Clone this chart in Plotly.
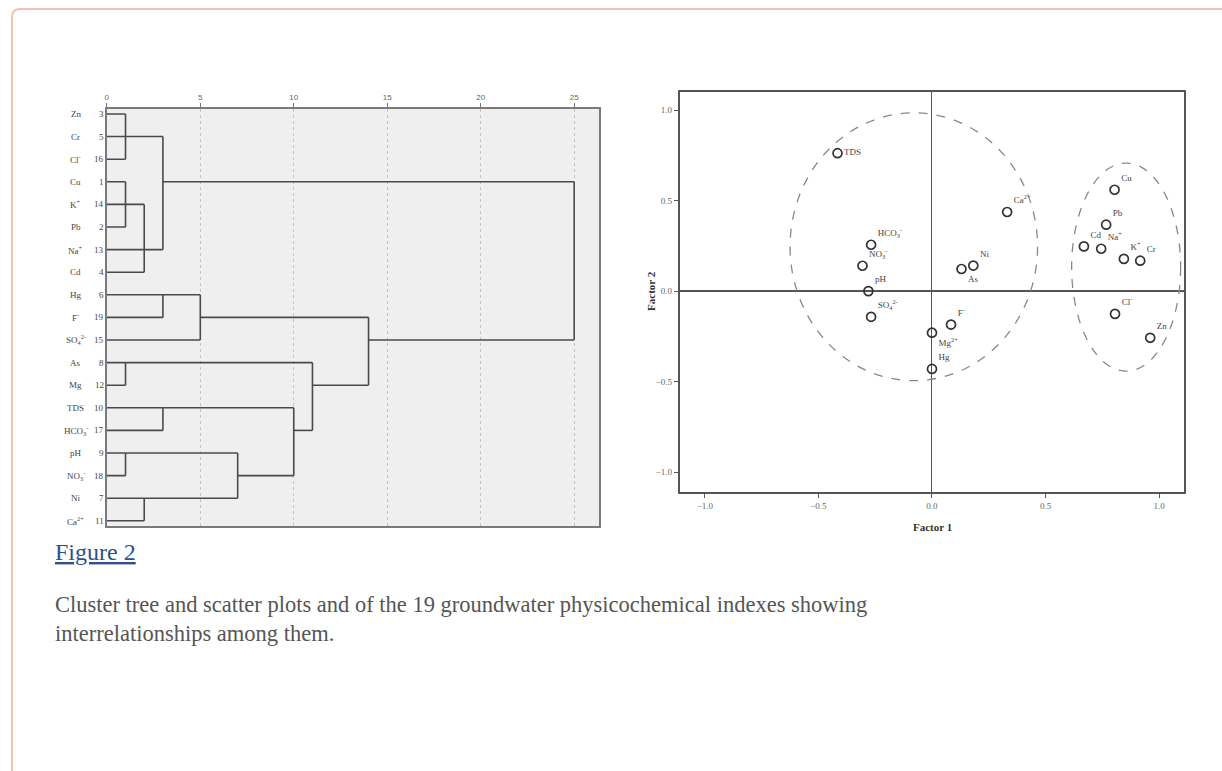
import math
import plotly.graph_objects as go

W, H = 1222, 771

# ---------------- Dendrogram data ----------------
leaf_names = ["Zn", "Cr", "Cl<sup>-</sup>", "Cu", "K<sup>+</sup>", "Pb", "Na<sup>+</sup>", "Cd",
              "Hg", "F<sup>-</sup>", "SO<sub>4</sub><sup>2-</sup>", "As", "Mg", "TDS",
              "HCO<sub>3</sub><sup>-</sup>", "pH", "NO<sub>3</sub><sup>-</sup>", "Ni", "Ca<sup>2+</sup>"]
leaf_ids = [3, 5, 16, 1, 14, 2, 13, 4, 6, 19, 15, 8, 12, 10, 17, 9, 18, 7, 11]
# merges: children (leaf index < 19, otherwise 19 + merge index) and rescaled distance
merge_children = [[0, 1, 2], [3, 4, 5], [20, 6, 7], [19, 21], [8, 9], [23, 10], [11, 12],
                  [13, 14], [15, 16], [17, 18], [27, 28], [26, 29], [25, 30], [24, 31], [22, 32]]
merge_dist = [1, 1, 2, 3, 3, 5, 1, 3, 1, 2, 7, 10, 11, 14, 25]
dist_ticks = [0, 5, 10, 15, 20, 25]

# ---------------- Factor scatter data ----------------
var_names = ["TDS", "HCO<sub>3</sub><sup>-</sup>", "NO<sub>3</sub><sup>-</sup>", "pH",
             "SO<sub>4</sub><sup>2-</sup>", "Ca<sup>2+</sup>", "Ni", "As", "F<sup>-</sup>",
             "Mg<sup>2+</sup>", "Hg", "Cu", "Pb", "Cd", "Na<sup>+</sup>", "K<sup>+</sup>",
             "Cr", "Cl<sup>-</sup>", "Zn"]
factor1 = [-0.416, -0.268, -0.306, -0.280, -0.268, 0.331, 0.182, 0.130, 0.084, 0.000, 0.000,
           0.804, 0.767, 0.669, 0.745, 0.845, 0.917, 0.806, 0.961]
factor2 = [0.762, 0.256, 0.140, 0.000, -0.142, 0.437, 0.141, 0.122, -0.185, -0.230, -0.430,
           0.560, 0.367, 0.247, 0.234, 0.178, 0.168, -0.126, -0.258]
factor_ticks = [-1.0, -0.5, 0.0, 0.5, 1.0]
# cluster ellipses: (center f1, center f2, radius f1, radius f2)
cluster_ellipses = [(-0.08, 0.245, 0.545, 0.74), (0.855, 0.1325, 0.24, 0.575)]

caption_title = "Figure 2"
caption_text = ("Cluster tree and scatter plots and of the 19 groundwater physicochemical indexes showing<br>"
                "interrelationships among them.")


def px(x):
    return x / W


def py(y):
    return 1 - y / H


# ---------------- compute dendrogram segments ----------------
n = len(leaf_names)
node_x = {i: 0.0 for i in range(n)}
node_y = {i: float(i) for i in range(n)}
seg_x, seg_y = [], []
for k, (ch, d) in enumerate(zip(merge_children, merge_dist)):
    ys = [node_y[c] for c in ch]
    for c in ch:
        seg_x += [node_x[c], d, None]
        seg_y += [node_y[c], node_y[c], None]
    seg_x += [d, d, None]
    seg_y += [min(ys), max(ys), None]
    m = sum(ys) / len(ys)
    node_x[n + k] = d
    node_y[n + k] = math.ceil(m - 0.5)

fig = go.Figure()
fig.add_trace(go.Scatter(x=seg_x, y=seg_y, mode="lines", line=dict(color="#4a4a4a", width=1.6),
                         xaxis="x", yaxis="y", hoverinfo="skip", showlegend=False))

positions = []
for nm in var_names:
    if nm in ("As", "Mg<sup>2+</sup>"):
        positions.append("bottom right")
    elif nm == "TDS":
        positions.append("middle right")
    else:
        positions.append("top right")

fig.add_trace(go.Scatter(x=factor1, y=factor2, mode="markers+text", text=var_names,
                         textposition=positions,
                         textfont=dict(family="Liberation Serif", size=9, color="#444"),
                         marker=dict(symbol="circle-open", size=9, color="#333", line=dict(width=1.7)),
                         xaxis="x2", yaxis="y2", hoverinfo="skip", showlegend=False))

serif = "Liberation Serif"
annotations = []
for i, (nm, idv) in enumerate(zip(leaf_names, leaf_ids)):
    annotations.append(dict(x=px(74), y=i, xref="paper", yref="y", text=nm, showarrow=False,
                            xanchor="center", yanchor="middle",
                            font=dict(family=serif, size=9, color="#444")))
    annotations.append(dict(x=px(104), y=i, xref="paper", yref="y", text=str(idv), showarrow=False,
                            xanchor="right", yanchor="middle",
                            font=dict(family=serif, size=9, color="#444")))

annotations.append(dict(x=px(932), y=py(527), xref="paper", yref="paper", text="<b>Factor 1</b>",
                        showarrow=False, xanchor="center", yanchor="middle",
                        font=dict(family=serif, size=11, color="#333")))
annotations.append(dict(x=px(650), y=py(291), xref="paper", yref="paper", text="<b>Factor 2</b>",
                        showarrow=False, xanchor="center", yanchor="middle", textangle=-90,
                        font=dict(family=serif, size=11, color="#333")))
annotations.append(dict(x=px(51), y=py(552), xref="paper", yref="paper",
                        text="<u>" + caption_title + "</u>", showarrow=False,
                        xanchor="left", yanchor="middle",
                        font=dict(family=serif, size=24, color="#2f4f8f")))
annotations.append(dict(x=px(51), y=py(619), xref="paper", yref="paper", text=caption_text,
                        showarrow=False, xanchor="left", yanchor="middle", align="left",
                        font=dict(family=serif, size=22.5, color="#555")))

shapes = []
for (cx, cy, rx, ry) in cluster_ellipses:
    shapes.append(dict(type="circle", xref="x2", yref="y2", x0=cx - rx, x1=cx + rx,
                       y0=cy - ry, y1=cy + ry, line=dict(color="#888", width=1.3, dash="dash")))

# page card border with rounded corner
bx, by = px(10), py(9)
rx_, ry_ = 8 / W, 8 / H
shapes.append(dict(type="path", xref="paper", yref="paper",
                   path=f"M {bx},-0.1 L {bx},{by - ry_} Q {bx},{by} {bx + rx_},{by} L 1.1,{by}",
                   line=dict(color="#efc4ae", width=2)))

fig.update_layout(
    width=W, height=H, margin=dict(l=0, r=0, t=0, b=0),
    paper_bgcolor="white", plot_bgcolor="white",
    xaxis=dict(domain=[px(105), px(598)], range=[0, 26.33], side="top", anchor="y",
               tickvals=dist_ticks, ticks="outside", ticklen=4, tickcolor="#777",
               tickfont=dict(family="Liberation Sans", size=8, color="#666"),
               showline=True, mirror=True, linecolor="#7a7a7a", linewidth=1.5,
               showgrid=True, gridcolor="#c4c4c4", griddash="dot", gridwidth=1, zeroline=False),
    yaxis=dict(domain=[py(526), py(109)], range=[18.23, -0.22], anchor="x",
               showline=True, mirror=True, linecolor="#7a7a7a", linewidth=1.5,
               showgrid=False, showticklabels=False, ticks="", zeroline=False),
    xaxis2=dict(domain=[px(679), px(1184)], range=[-1.11, 1.11], anchor="y2",
                tickvals=factor_ticks, tickformat=".1f", ticks="outside", ticklen=4, tickcolor="#555",
                tickfont=dict(family=serif, size=9, color="#666"),
                showline=True, mirror=True, linecolor="#555", linewidth=2,
                showgrid=False, zeroline=True, zerolinecolor="#555", zerolinewidth=1),
    yaxis2=dict(domain=[py(492), py(92)], range=[-1.11, 1.10], anchor="x2",
                tickvals=factor_ticks, tickformat=".1f", ticks="outside", ticklen=4, tickcolor="#555",
                tickfont=dict(family=serif, size=9, color="#666"),
                showline=True, mirror=True, linecolor="#555", linewidth=2,
                showgrid=False, zeroline=True, zerolinecolor="#555", zerolinewidth=2),
    annotations=annotations, shapes=shapes,
)
# dendrogram panel background
fig.add_shape(type="rect", xref="x domain", yref="y domain", x0=0, x1=1, y0=0, y1=1,
              fillcolor="#efefef", line=dict(width=0), layer="below")

fig.write_html("out.html", config={"displayModeBar": False},
               post_script="document.body.style.margin='0';document.body.style.overflow='hidden';")
